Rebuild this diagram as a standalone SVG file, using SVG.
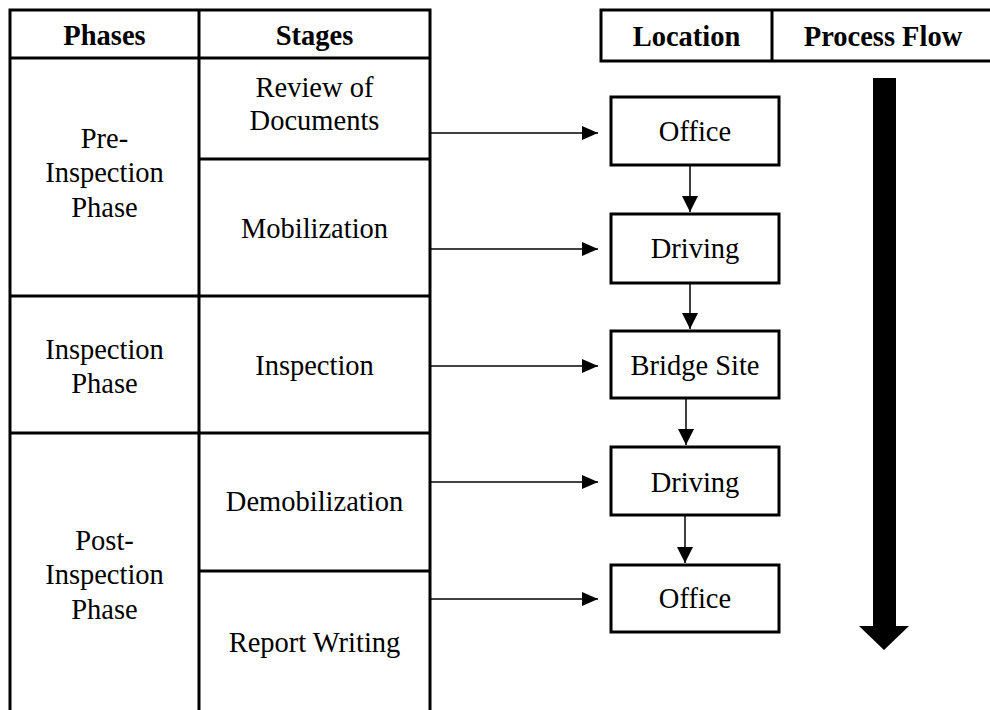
<svg xmlns="http://www.w3.org/2000/svg" width="990" height="710" viewBox="0 0 990 710">
  <defs>
    <style>
      .cell { fill: none; stroke: #000; stroke-width: 3; }
      .box { fill: #fff; stroke: #000; stroke-width: 3; }
      .txt { font-family: "Liberation Serif", "Times New Roman", serif; font-size: 28.5px; fill: #000; text-anchor: middle; }
      .hdr { font-weight: bold; }
      .conn { stroke: #000; stroke-width: 1.5; fill: none; }
    </style>
    <marker id="ah" markerWidth="16" markerHeight="14" refX="16" refY="7" orient="auto" markerUnits="userSpaceOnUse">
      <path d="M0,0 L16,7 L0,14 Z" fill="#000"/>
    </marker>
    <marker id="ahv" markerWidth="16" markerHeight="16" refX="16" refY="8" orient="auto" markerUnits="userSpaceOnUse">
      <path d="M0,0 L16,8 L0,16 Z" fill="#000"/>
    </marker>
  </defs>

  <rect width="990" height="710" fill="#fff"/>

  <!-- Phases / Stages table -->
  <g id="table">
    <path class="cell" d="M10,712 V10 H430 V712 M199,10 V712 M10,58 H430 M199,159 H430 M10,296 H430 M10,433 H430 M199,571 H430"/>
    <text class="txt hdr" x="104.5" y="45">Phases</text>
    <text class="txt hdr" x="314.5" y="45">Stages</text>
  </g>

  <g id="phase-pre">
    <text class="txt" x="104.5" y="148">Pre-</text>
    <text class="txt" x="104.5" y="182">Inspection</text>
    <text class="txt" x="104.5" y="217">Phase</text>
  </g>
  <g id="phase-inspection">
    <text class="txt" x="104.5" y="359">Inspection</text>
    <text class="txt" x="104.5" y="393">Phase</text>
  </g>
  <g id="phase-post">
    <text class="txt" x="104.5" y="550">Post-</text>
    <text class="txt" x="104.5" y="584">Inspection</text>
    <text class="txt" x="104.5" y="619">Phase</text>
  </g>

  <g id="stage-review">
    <text class="txt" x="314.5" y="97">Review of</text>
    <text class="txt" x="314.5" y="130">Documents</text>
  </g>
  <g id="stage-mobilization"><text class="txt" x="314.5" y="238">Mobilization</text></g>
  <g id="stage-inspection"><text class="txt" x="314.5" y="375">Inspection</text></g>
  <g id="stage-demobilization"><text class="txt" x="314.5" y="511">Demobilization</text></g>
  <g id="stage-report"><text class="txt" x="314.5" y="652">Report Writing</text></g>

  <!-- Location / Process Flow header -->
  <g id="header-right">
    <path class="cell" d="M1000,10 H601 V61 H1000 M772,10 V61"/>
    <text class="txt hdr" x="686.5" y="46">Location</text>
    <text class="txt hdr" x="883" y="46">Process Flow</text>
  </g>

  <!-- Location boxes -->
  <g id="loc-office-1">
    <rect class="box" x="611" y="97" width="168" height="68"/>
    <text class="txt" x="695" y="141">Office</text>
  </g>
  <g id="loc-driving-1">
    <rect class="box" x="611" y="214" width="168" height="69"/>
    <text class="txt" x="695" y="258">Driving</text>
  </g>
  <g id="loc-bridge">
    <rect class="box" x="611" y="331" width="168" height="67"/>
    <text class="txt" x="695" y="375">Bridge Site</text>
  </g>
  <g id="loc-driving-2">
    <rect class="box" x="611" y="447" width="168" height="68"/>
    <text class="txt" x="695" y="492">Driving</text>
  </g>
  <g id="loc-office-2">
    <rect class="box" x="611" y="565" width="168" height="67"/>
    <text class="txt" x="695" y="608">Office</text>
  </g>

  <!-- Process flow arrow -->
  <g id="process-flow-arrow">
    <path d="M873,78 H896 V626 H909 L884,650 L859,626 H873 Z" fill="#000"/>
  </g>

  <!-- Connectors -->
  <g id="connectors">
    <line class="conn" x1="430" y1="133" x2="598" y2="133" marker-end="url(#ah)"/>
    <line class="conn" x1="430" y1="249" x2="598" y2="249" marker-end="url(#ah)"/>
    <line class="conn" x1="430" y1="366" x2="598" y2="366" marker-end="url(#ah)"/>
    <line class="conn" x1="430" y1="482" x2="598" y2="482" marker-end="url(#ah)"/>
    <line class="conn" x1="430" y1="599" x2="598" y2="599" marker-end="url(#ah)"/>
    <line class="conn" x1="690" y1="165" x2="690" y2="212" marker-end="url(#ahv)"/>
    <line class="conn" x1="690" y1="283" x2="690" y2="329" marker-end="url(#ahv)"/>
    <line class="conn" x1="686" y1="398" x2="686" y2="445" marker-end="url(#ahv)"/>
    <line class="conn" x1="685" y1="515" x2="685" y2="563" marker-end="url(#ahv)"/>
  </g>
</svg>
